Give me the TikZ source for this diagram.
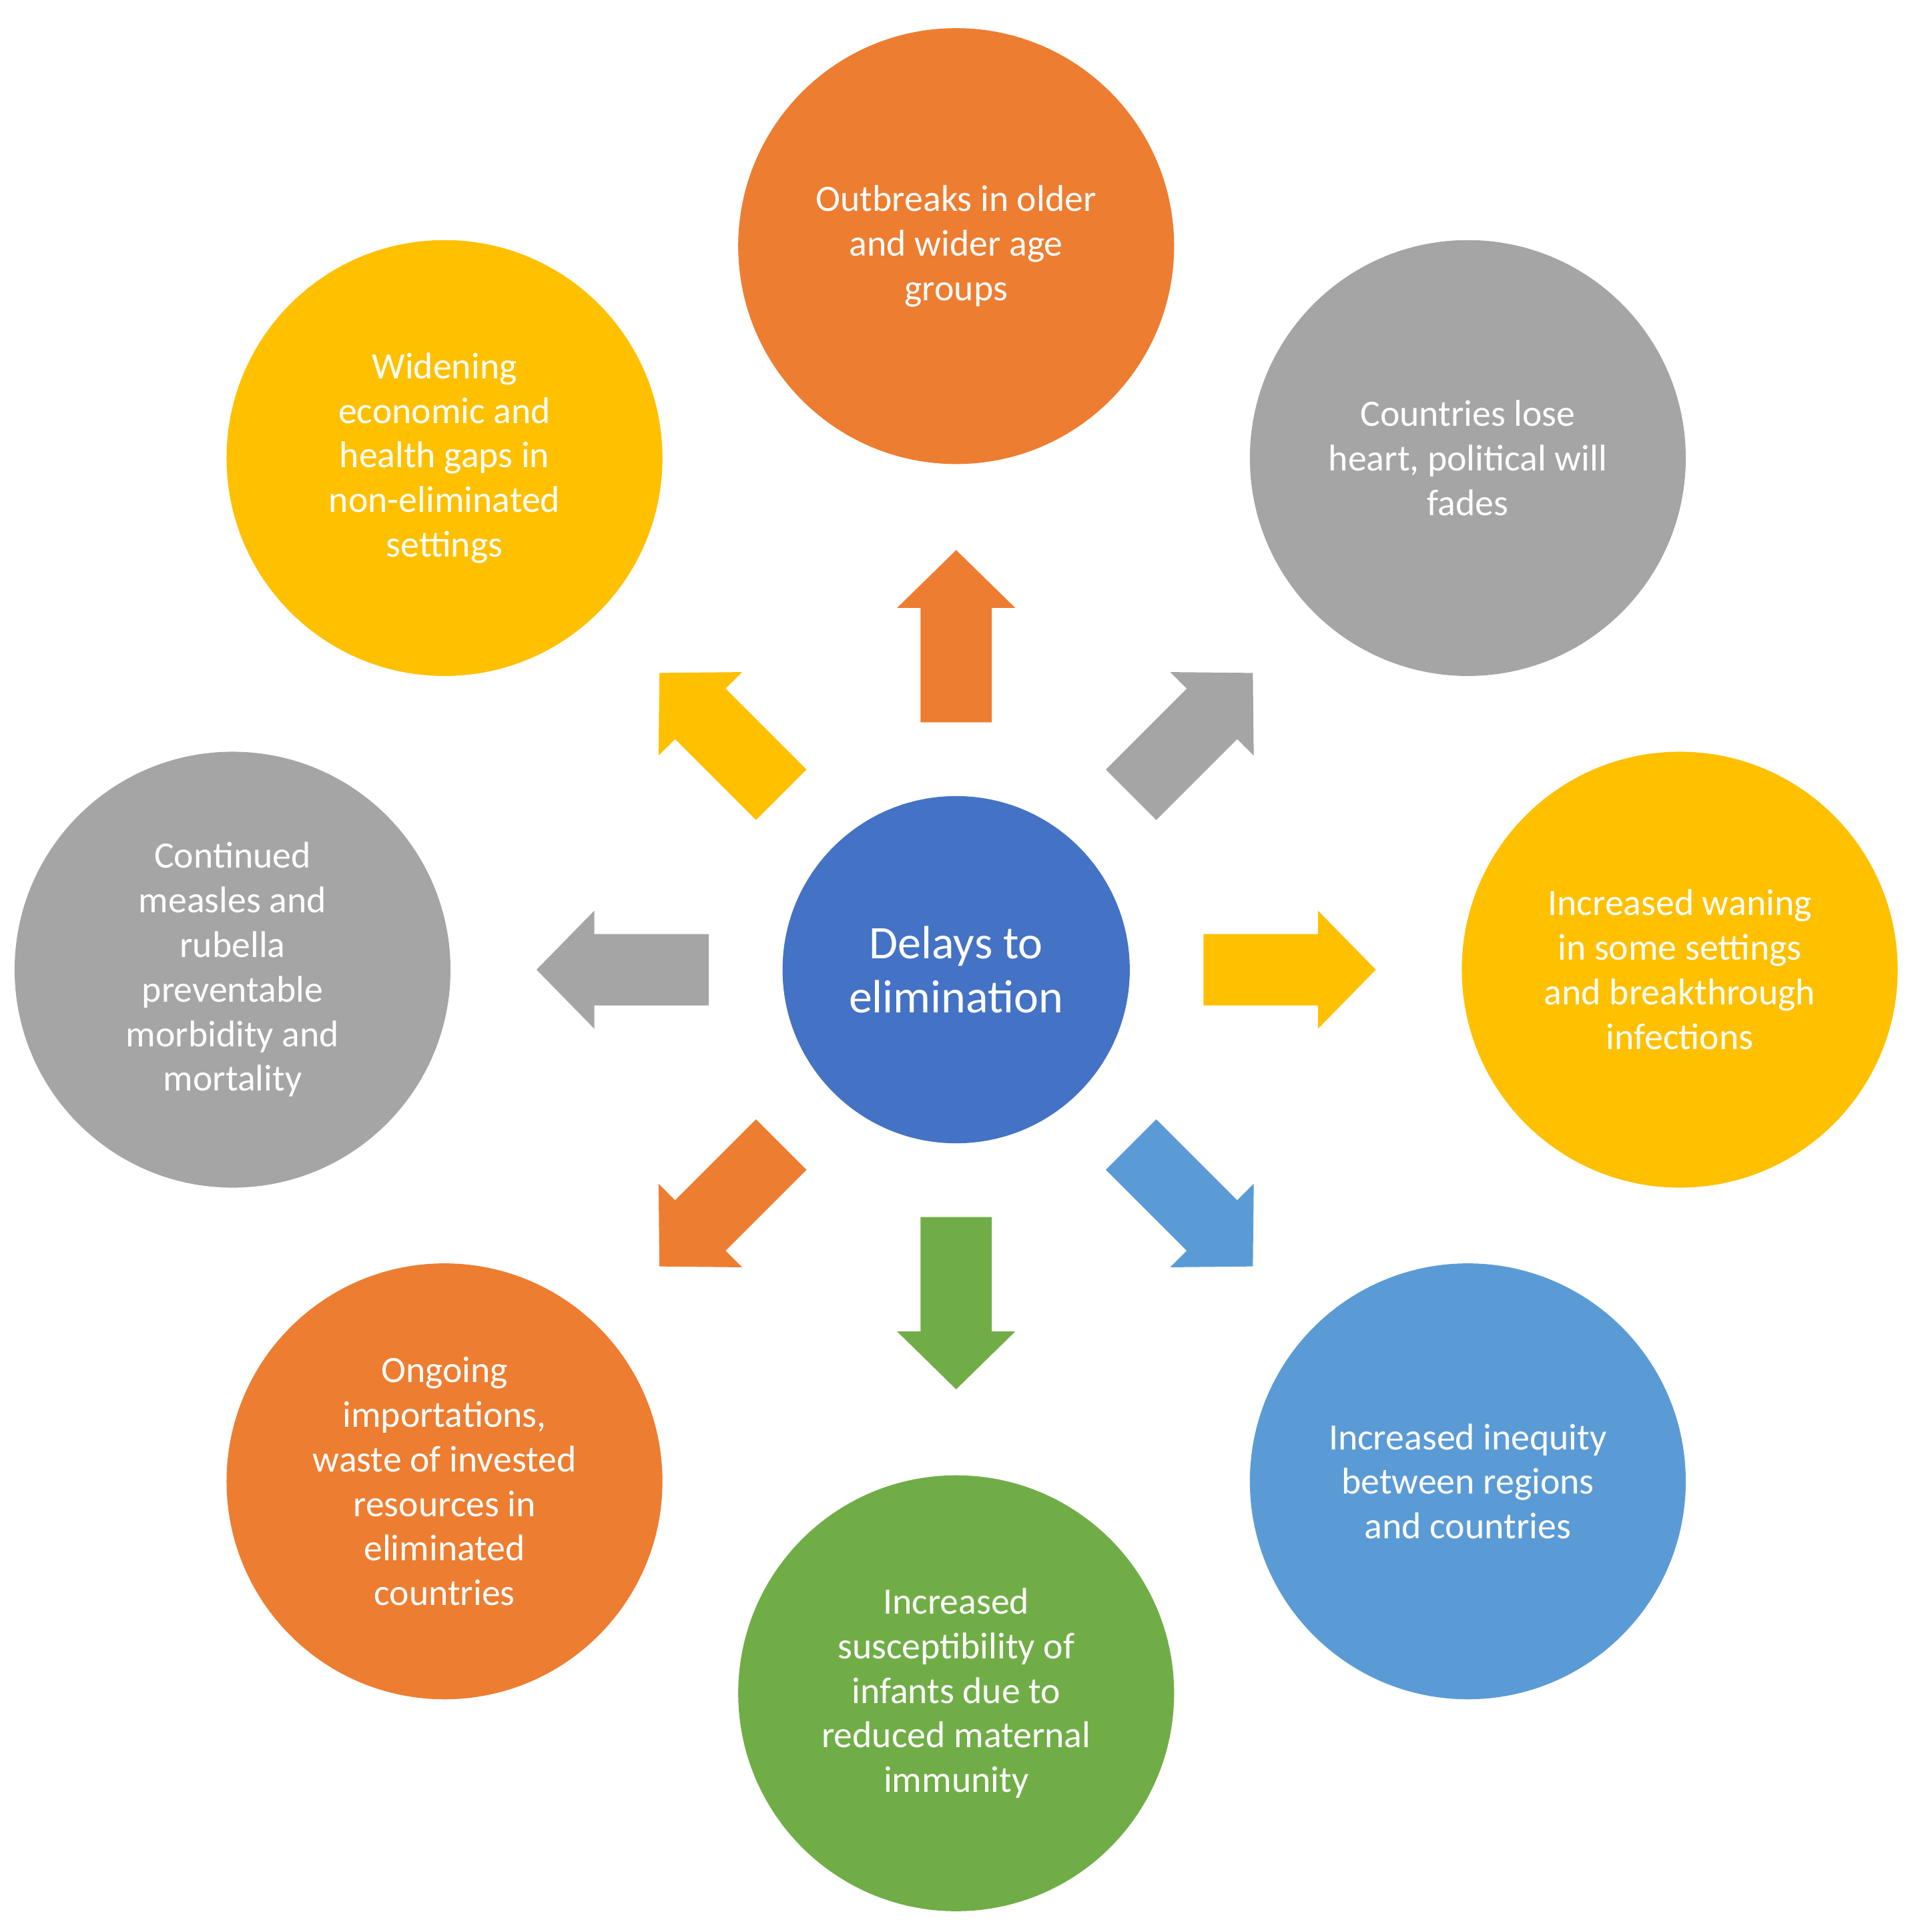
\documentclass[tikz,border=0pt]{standalone}
\usepackage{fontspec}
\setmainfont{Carlito}
\usetikzlibrary{positioning}
\definecolor{corange}{HTML}{ED7D31}
\definecolor{cgray}{HTML}{A5A5A5}
\definecolor{cyellow}{HTML}{FFC000}
\definecolor{cblue}{HTML}{5B9BD5}
\definecolor{cgreen}{HTML}{70AD47}
\definecolor{ccenter}{HTML}{4472C4}
\begin{document}
\begin{tikzpicture}
        [x=0.01cm,y=0.01cm,
        outcome/.style={circle,minimum size=3.54cm,inner sep=0,text=white,align=center,font=\fontsize{8.6}{10.3}\selectfont},
        hub/.style={circle,fill=ccenter,minimum size=2.82cm,inner sep=0,text=white,align=center,font=\fontsize{10.8}{12.4}\selectfont}]

\useasboundingbox (-777,-782) rectangle (783,788);

% centre
\node[hub] (delays) at (0,0) {Delays to\\elimination};

% outcomes
\node[outcome,fill=corange] (outbreaks) at (90:588) {Outbreaks in older\\and wider age\\groups};
\node[outcome,fill=cgray] (heart) at (45:588) {Countries lose\\heart, political will\\fades};
\node[outcome,fill=cyellow] (waning) at (0:588) {Increased waning\\in some settings\\and breakthrough\\infections};
\node[outcome,fill=cblue] (inequity) at (-45:588) {Increased inequity\\between regions\\and countries};
\node[outcome,fill=cgreen] (infants) at (-90:588) {Increased\\susceptibility of\\infants due to\\reduced maternal\\immunity};
\node[outcome,fill=corange] (importations) at (-135:588) {Ongoing\\importations,\\waste of invested\\resources in\\eliminated\\countries};
\node[outcome,fill=cgray] (morbidity) at (180:588) {Continued\\measles and\\rubella\\preventable\\morbidity and\\mortality};
\node[outcome,fill=cyellow] (gaps) at (135:588) {Widening\\economic and\\health gaps in\\non-eliminated\\settings};

% arrows
\foreach \ang/\col in {90/corange,45/cgray,0/cyellow,-45/cblue,-90/cgreen,-135/corange,180/cgray,135/cyellow}
  \fill[\col,rotate=\ang] (201,-29) -- (294,-29) -- (294,-48) -- (341,0) -- (294,48) -- (294,29) -- (201,29) -- cycle;

\end{tikzpicture}
\end{document}
